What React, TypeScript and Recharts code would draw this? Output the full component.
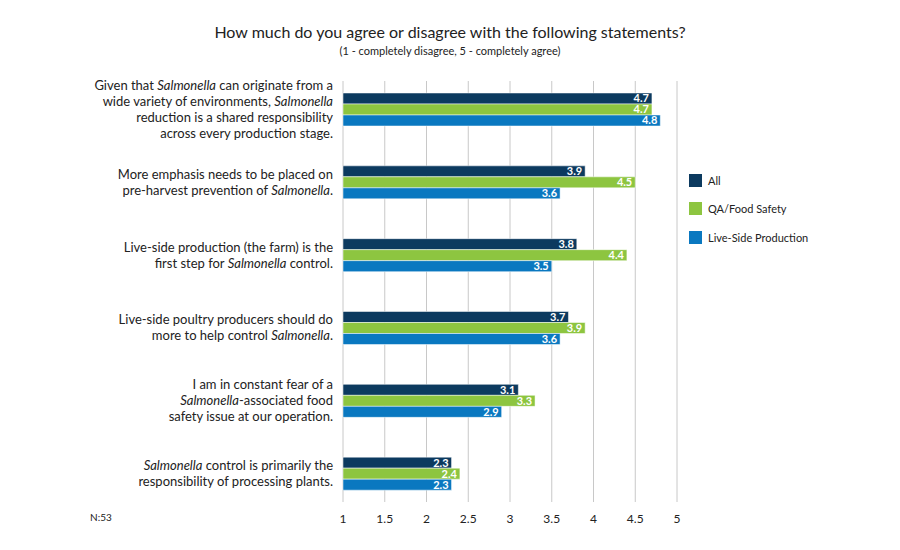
import React from "react";
import {
  BarChart,
  Bar,
  XAxis,
  YAxis,
  CartesianGrid,
  LabelList,
} from "recharts";

// statement text, "|" = line break, _word_ = italic
const statements = [
  "Given that _Salmonella_ can originate from a|wide variety of environments, _Salmonella_|reduction is a shared responsibility|across every production stage.",
  "More emphasis needs to be placed on|pre-harvest prevention of _Salmonella_.",
  "Live-side production (the farm) is the|first step for _Salmonella_ control.",
  "Live-side poultry producers should do|more to help control _Salmonella_.",
  "I am in constant fear of a|_Salmonella_-associated food|safety issue at our operation.",
  "_Salmonella_ control is primarily the|responsibility of processing plants.",
];

const allValues = [4.7, 3.9, 3.8, 3.7, 3.1, 2.3];
const qaValues = [4.7, 4.5, 4.4, 3.9, 3.3, 2.4];
const liveValues = [4.8, 3.6, 3.5, 3.6, 2.9, 2.3];

const xTicks = [1, 1.5, 2, 2.5, 3, 3.5, 4, 4.5, 5];

const seriesInfo = [
  { key: "all", name: "All", color: "#0c3a5f" },
  { key: "qa", name: "QA/Food Safety", color: "#8dc540" },
  { key: "live", name: "Live-Side Production", color: "#0a78c0" },
];

const data = statements.map((s, i) => ({
  name: s,
  all: allValues[i],
  qa: qaValues[i],
  live: liveValues[i],
}));

const FONT = "Lato, 'Open Sans', sans-serif";
const LINE_H = 16;

function StatementTick(props: any) {
  const { x, y, payload } = props;
  const lines: string[] = String(payload.value).split("|");
  const startY = y - ((lines.length - 1) * LINE_H) / 2;
  return (
    <text
      x={x}
      y={startY}
      textAnchor="end"
      fontFamily={FONT}
      fontSize={13}
      fill="#222"
    >
      {lines.map((line, li) => (
        <tspan key={li} x={x} y={startY + li * LINE_H} dy="0.35em">
          {line.split("_").map((part, pi) => (
            <tspan key={pi} fontStyle={pi % 2 === 1 ? "italic" : "normal"}>
              {part}
            </tspan>
          ))}
        </tspan>
      ))}
    </text>
  );
}

function LegendBox() {
  return (
    <div
      style={{
        position: "absolute",
        left: 689,
        top: 166,
        fontFamily: FONT,
        fontSize: 11,
        color: "#222",
      }}
    >
      {seriesInfo.map((s) => (
        <div
          key={s.key}
          style={{ display: "flex", alignItems: "center", height: 28.5 }}
        >
          <span
            style={{
              width: 13,
              height: 13,
              background: s.color,
              marginRight: 6,
              display: "inline-block",
            }}
          />
          <span>{s.name}</span>
        </div>
      ))}
    </div>
  );
}

export default function App() {
  return (
    <div
      style={{
        position: "absolute",
        left: 0,
        top: 0,
        width: 900,
        height: 550,
        background: "#fff",
        fontFamily: FONT,
      }}
    >
      <div
        style={{
          position: "absolute",
          top: 22,
          width: 900,
          textAlign: "center",
          fontSize: 16,
          color: "#222",
        }}
      >
        How much do you agree or disagree with the following statements?
      </div>
      <div
        style={{
          position: "absolute",
          top: 44,
          width: 900,
          textAlign: "center",
          fontSize: 11,
          color: "#222",
        }}
      >
        (1 - completely disagree, 5 - completely agree)
      </div>
      <div
        style={{
          position: "absolute",
          left: 90,
          top: 511,
          fontSize: 10,
          color: "#222",
        }}
      >
        N:53
      </div>

      <BarChart
        width={900}
        height={550}
        data={data}
        layout="vertical"
        margin={{ top: 73, right: 223, left: 0, bottom: 10 }}
        barGap={0}
        barSize={11}
      >
        <CartesianGrid
          horizontal={false}
          vertical={(p: any) => (
            <line
              key={p.key}
              x1={p.x1}
              x2={p.x2}
              y1={p.y1 + 8}
              y2={p.y2 - 8}
              stroke="#c8c8c8"
              strokeWidth={1}
            />
          )}
        />
        <XAxis
          type="number"
          domain={[1, 5]}
          ticks={xTicks}
          interval={0}
          axisLine={false}
          tickLine={false}
          tickSize={0}
          tickMargin={4}
          height={30}
          tick={{ fontSize: 12, fill: "#222", fontFamily: FONT }}
        />
        <YAxis
          type="category"
          dataKey="name"
          width={343}
          axisLine={false}
          tickLine={false}
          tickSize={0}
          tickMargin={10}
          interval={0}
          tick={<StatementTick />}
        />
        {seriesInfo.map((s) => (
          <Bar
            key={s.key}
            dataKey={s.key}
            name={s.name}
            fill={s.color}
            stroke="#ffffff"
            strokeWidth={0.5}
            isAnimationActive={false}
          >
            <LabelList
              dataKey={s.key}
              position="insideRight"
              offset={3}
              fill="#ffffff"
              fontSize={11}
              fontWeight="bold"
              fontFamily={FONT}
              formatter={(v: any) => Number(v).toFixed(1)}
            />
          </Bar>
        ))}
      </BarChart>
      <LegendBox />
    </div>
  );
}
